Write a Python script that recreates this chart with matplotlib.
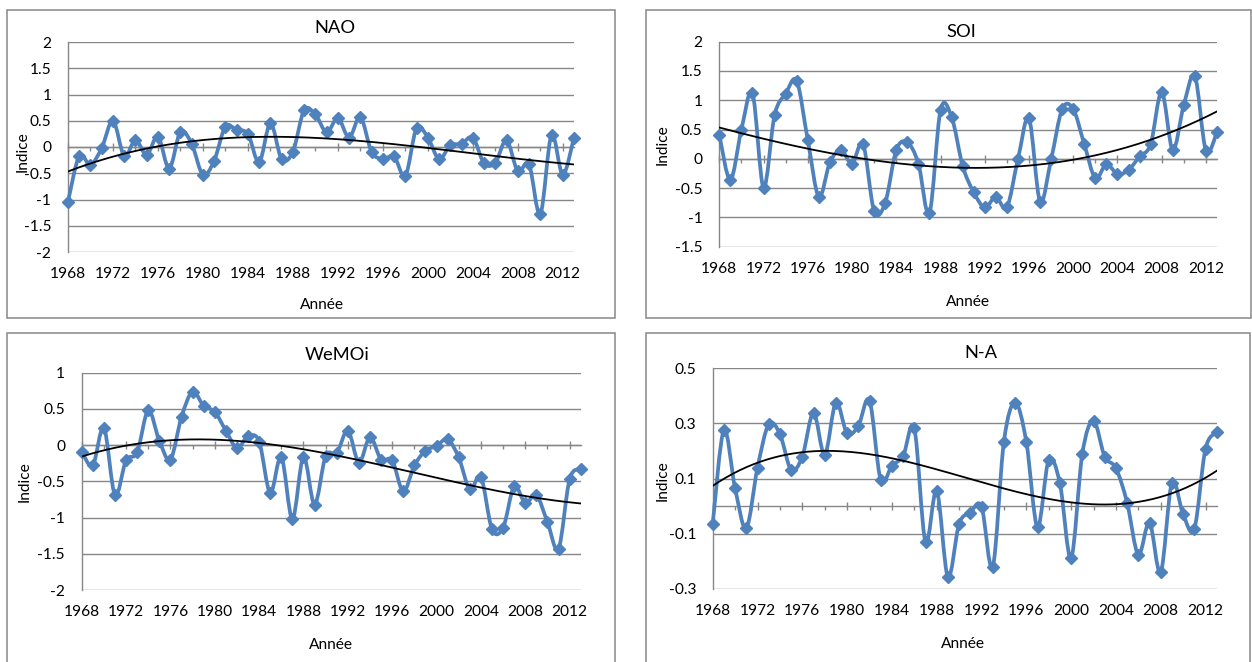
import numpy as np
import matplotlib
matplotlib.use('Agg')
import matplotlib.pyplot as plt
from matplotlib.path import Path
from matplotlib.patches import PathPatch, Rectangle
from matplotlib.ticker import MultipleLocator

plt.rcParams['font.family'] = ['Lato', 'DejaVu Sans']
plt.rcParams['axes.unicode_minus'] = False

years = np.arange(1968, 2014)

nao = [-1.04, -0.17, -0.34, -0.02, 0.50, -0.17, 0.13, -0.15, 0.20, -0.41,
       0.29, 0.06, -0.53, -0.26, 0.39, 0.32, 0.25, -0.29, 0.45, -0.23,
       -0.09, 0.70, 0.62, 0.28, 0.55, 0.18, 0.57, -0.09, -0.23, -0.18,
       -0.55, 0.36, 0.18, -0.23, 0.03, 0.06, 0.18, -0.31, -0.30, 0.13,
       -0.46, -0.33, -1.28, 0.23, -0.53, 0.18]

soi = [0.41, -0.36, 0.50, 1.12, -0.49, 0.75, 1.11, 1.33, 0.32, -0.65,
       -0.06, 0.15, -0.08, 0.25, -0.89, -0.75, 0.15, 0.28, -0.08, -0.93,
       0.83, 0.72, -0.12, -0.57, -0.83, -0.65, -0.83, -0.01, 0.69, -0.73,
       -0.01, 0.85, 0.85, 0.25, -0.33, -0.09, -0.26, -0.19, 0.04, 0.25,
       1.14, 0.15, 0.92, 1.41, 0.14, 0.46]

wemoi = [-0.09, -0.28, 0.24, -0.69, -0.21, -0.10, 0.48, 0.06, -0.20, 0.39,
         0.74, 0.54, 0.46, 0.20, -0.04, 0.12, 0.05, -0.66, -0.16, -1.02,
         -0.16, -0.82, -0.15, -0.11, 0.20, -0.24, 0.11, -0.20, -0.21, -0.64,
         -0.28, -0.08, -0.01, 0.08, -0.17, -0.61, -0.44, -1.16, -1.14, -0.57,
         -0.80, -0.69, -1.06, -1.43, -0.47, -0.33]

na = [-0.064, 0.277, 0.065, -0.080, 0.140, 0.297, 0.262, 0.132, 0.180, 0.339,
      0.186, 0.376, 0.264, 0.291, 0.383, 0.095, 0.147, 0.182, 0.283, -0.130,
      0.057, -0.257, -0.064, -0.023, -0.001, -0.221, 0.234, 0.376, 0.234, -0.076,
      0.168, 0.083, -0.188, 0.190, 0.310, 0.180, 0.138, 0.013, -0.176, -0.059,
      -0.240, 0.086, -0.029, -0.082, 0.208, 0.268]

BLUE = '#4F81BD'
GRAY = '#878787'
W, H = 1252, 662

fig = plt.figure(figsize=(W / 100, H / 100), dpi=100)


def fx(px):
    return px / W


def fy(py):
    return 1 - py / H


def smooth_path(x, y):
    # Excel-style smoothed line: cubic Bezier segments (Catmull-Rom handles)
    n = len(x)
    verts = [(x[0], y[0])]
    codes = [Path.MOVETO]
    for i in range(n - 1):
        xa, ya = (x[i - 1], y[i - 1]) if i > 0 else (x[i], y[i])
        xb, yb = (x[i + 2], y[i + 2]) if i + 2 < n else (x[i + 1], y[i + 1])
        c1 = (x[i] + (x[i + 1] - xa) / 6, y[i] + (y[i + 1] - ya) / 6)
        c2 = (x[i + 1] - (xb - x[i]) / 6, y[i + 1] - (yb - y[i]) / 6)
        verts += [c1, c2, (x[i + 1], y[i + 1])]
        codes += [Path.CURVE4] * 3
    return Path(verts, codes)


def panel(box, area, values, title, yticks, ylabels, title_xy, ylab_xy, xlab_xy):
    # chart frame
    x0, y0, x1, y1 = box
    fig.patches.append(Rectangle((fx(x0), fy(y1)), fx(x1 - x0), (y1 - y0) / H,
                                 transform=fig.transFigure, fill=False,
                                 edgecolor=GRAY, linewidth=1.1))
    l, t, r, b = area
    ax = fig.add_axes([fx(l), fy(b), fx(r - l), (b - t) / H])
    ax.set_xlim(years[0], years[-1])
    ax.set_ylim(yticks[0], yticks[-1])

    for s in ['top', 'right']:
        ax.spines[s].set_visible(False)
    ax.spines['left'].set_color(GRAY)
    ax.spines['left'].set_linewidth(1.0)
    ax.spines['bottom'].set_position(('data', 0))
    ax.spines['bottom'].set_color(GRAY)
    ax.spines['bottom'].set_linewidth(1.0)

    ax.set_yticks(yticks)
    ax.set_yticklabels(ylabels)
    ax.tick_params(axis='y', length=0, pad=12, labelsize=11.2)
    ax.yaxis.grid(True, color=GRAY, linewidth=1.0)
    ax.set_axisbelow(True)

    ax.xaxis.set_major_locator(MultipleLocator(4))
    ax.xaxis.set_minor_locator(MultipleLocator(2))
    ax.tick_params(axis='x', which='major', direction='inout', length=6,
                   color=GRAY, width=1.0, labelbottom=False)
    ax.tick_params(axis='x', which='minor', direction='out', length=3,
                   color=GRAY, width=1.0)

    # year labels sit under the plot area, not on the zero line
    sec = ax.secondary_xaxis(0.0)
    sec.set_xticks(years[::4])
    sec.set_xticklabels([str(v) for v in years[::4]])
    sec.tick_params(length=0, pad=11, labelsize=11.2)
    sec.spines['bottom'].set_visible(False)

    ax.add_patch(PathPatch(smooth_path(years, values), fill=False,
                           edgecolor=BLUE, linewidth=2.7, clip_on=False, zorder=3))
    ax.plot(years, values, linestyle='none', marker='D', markersize=6.6,
            color=BLUE, markeredgewidth=1, clip_on=False, zorder=4)

    # 3rd-order polynomial trend
    coef = np.polyfit(years - years[0], values, 3)
    xt = np.linspace(years[0], years[-1], 300)
    ax.plot(xt, np.polyval(coef, xt - years[0]), color='black', linewidth=1.3,
            zorder=5)

    fig.text(fx(title_xy[0]), fy(title_xy[1]), title, fontsize=13.2,
             ha='center', va='center')
    fig.text(fx(ylab_xy[0]), fy(ylab_xy[1]), 'Indice', fontsize=11.2,
             rotation=90, ha='center', va='center')
    fig.text(fx(xlab_xy[0]), fy(xlab_xy[1]), 'Année', fontsize=11.2,
             ha='center', va='center')
    return ax


panel((7, 10, 615, 318), (68, 42, 574, 252), nao, 'NAO',
      [-2, -1.5, -1, -0.5, 0, 0.5, 1, 1.5, 2],
      ['-2', '-1.5', '-1', '-0.5', '0', '0.5', '1', '1.5', '2'],
      (335, 28), (23, 152), (322, 305))

panel((646, 10, 1251, 318), (719.3, 41.7, 1217, 246.7), soi, 'SOI',
      [-1.5, -1, -0.5, 0, 0.5, 1, 1.5, 2],
      ['-1.5', '-1', '-0.5', '0', '0.5', '1', '1.5', '2'],
      (961, 32), (663, 145), (968, 302))

panel((7, 333, 615, 668), (81.7, 372.7, 580.7, 590), wemoi, 'WeMOi',
      [-2, -1.5, -1, -0.5, 0, 0.5, 1],
      ['-2', '-1.5', '-1', '-0.5', '0', '0.5', '1'],
      (337, 355), (25, 482), (331, 645))

panel((646, 333, 1250, 668), (712.7, 368.3, 1216.7, 589), na, 'N-A',
      [-0.3, -0.1, 0.1, 0.3, 0.5],
      ['-0.3', '-0.1', '0.1', '0.3', '0.5'],
      (981, 353), (663, 481), (963, 644))

fig.savefig('out.png', dpi=100)
